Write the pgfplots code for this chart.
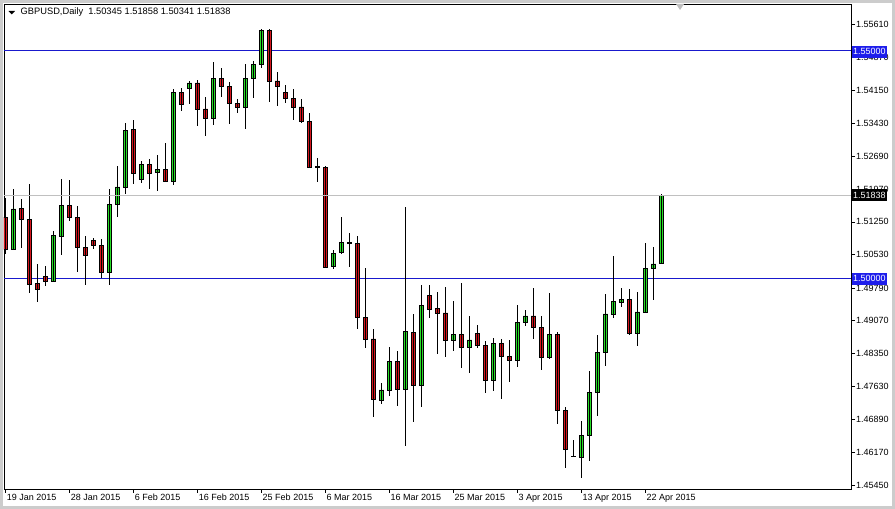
\documentclass[border=0pt]{standalone}
\usepackage{fontspec}
\setmainfont{Liberation Sans}
\usepackage{pgfplots}
\usepackage{pgfplotstable}
\pgfplotsset{compat=1.18}

\definecolor{bull}{RGB}{40,222,40}
\definecolor{bear}{RGB}{214,22,30}
\definecolor{level}{RGB}{25,25,205}
\definecolor{tag}{RGB}{30,30,235}
\definecolor{bidline}{RGB}{192,192,192}

% GBPUSD daily, bar index (0 = 19 Jan 2015), open high low close
\pgfplotstableread{
i o h l c
0 1.51356 1.51768 1.50541 1.50651
1 1.50651 1.51973 1.50651 1.51533
2 1.51540 1.51761 1.50673 1.51312
3 1.51312 1.52091 1.49681 1.49880
4 1.49902 1.50321 1.49476 1.49770
5 1.50056 1.50269 1.49828 1.49946
6 1.49946 1.51055 1.49917 1.50945
7 1.50938 1.52201 1.50519 1.51621
8 1.51621 1.52164 1.51261 1.51356
9 1.51342 1.51599 1.50137 1.50695
10 1.50695 1.50930 1.49858 1.50519
11 1.50842 1.50894 1.50651 1.50739
12 1.50739 1.50872 1.50012 1.50137
13 1.50137 1.51966 1.49858 1.51643
14 1.51643 1.52488 1.51356 1.52018
15 1.52018 1.53421 1.51863 1.53274
16 1.53296 1.53501 1.52084 1.52326
17 1.52194 1.52598 1.52106 1.52524
18 1.52524 1.52635 1.51966 1.52326
19 1.52348 1.52723 1.51922 1.52414
20 1.52414 1.52980 1.52135 1.52150
21 1.52150 1.54185 1.52062 1.54111
22 1.54111 1.54207 1.53685 1.53847
23 1.54199 1.54346 1.53847 1.54310
24 1.54310 1.54383 1.53355 1.53737
25 1.53737 1.54008 1.53134 1.53538
26 1.53538 1.54780 1.53384 1.54420
27 1.54420 1.54633 1.53994 1.54243
28 1.54243 1.54332 1.53406 1.53869
29 1.53869 1.53950 1.53648 1.53781
30 1.53781 1.54728 1.53296 1.54420
31 1.54420 1.54794 1.53972 1.54728
32 1.54728 1.55500 1.54640 1.55463
33 1.55463 1.55500 1.53898 1.54354
34 1.54354 1.54559 1.53795 1.54243
35 1.54111 1.54266 1.53876 1.53979
36 1.53979 1.54185 1.53494 1.53781
37 1.53781 1.53964 1.53428 1.53465
38 1.53472 1.53648 1.52429 1.52451
39 1.52458 1.52664 1.52120 1.52466
40 1.52458 1.52473 1.50232 1.50254
41 1.50269 1.50629 1.50210 1.50563
42 1.50570 1.51349 1.50541 1.50805
43 1.50783 1.50996 1.50247 1.50798
44 1.50783 1.50945 1.48881 1.49152
45 1.49152 1.50225 1.48462 1.48668
46 1.48668 1.48895 1.46941 1.47345
47 1.47323 1.47691 1.47235 1.47544
48 1.47544 1.48499 1.47419 1.48183
49 1.48183 1.48411 1.47184 1.47566
50 1.47566 1.51569 1.46302 1.48844
51 1.48822 1.49226 1.46831 1.47654
52 1.47654 1.49865 1.47162 1.49417
53 1.49637 1.49865 1.49130 1.49329
54 1.49336 1.49711 1.48330 1.49241
55 1.49241 1.49821 1.48264 1.48646
56 1.48646 1.49512 1.48396 1.48778
57 1.48778 1.49909 1.48021 1.48491
58 1.48491 1.49182 1.47911 1.48646
59 1.48800 1.48984 1.48469 1.48535
60 1.48535 1.48616 1.47477 1.47757
61 1.47757 1.48682 1.47514 1.48579
62 1.48579 1.48675 1.47338 1.48293
63 1.48293 1.48653 1.47713 1.48205
64 1.48205 1.49424 1.48043 1.49042
65 1.49042 1.49314 1.48947 1.49175
66 1.49175 1.49784 1.48660 1.48932
67 1.48932 1.49182 1.47977 1.48264
68 1.48264 1.49689 1.48227 1.48778
69 1.48778 1.48829 1.46794 1.47103
70 1.47103 1.47162 1.45825 1.46243
71 1.46085 1.46449 1.46060 1.46080
72 1.46067 1.46868 1.45597 1.46552
73 1.46552 1.47970 1.45979 1.47485
74 1.47485 1.48763 1.46963 1.48381
75 1.48381 1.49667 1.48065 1.49219
76 1.49219 1.50504 1.49123 1.49505
77 1.49483 1.49799 1.49380 1.49535
78 1.49535 1.49777 1.48756 1.48800
79 1.48800 1.49711 1.48506 1.49263
80 1.49263 1.50776 1.49233 1.50232
81 1.50232 1.50688 1.49527 1.50321
82 1.50345 1.51858 1.50341 1.51838
}\gbpusd

\begin{document}
\begin{tikzpicture}[x=1pt,y=1pt,font=\fontsize{9}{10}\selectfont]
\fill[white] (0,0) rectangle (895,509);
\draw[gray!40, line width=3pt] (1.5,1.5) rectangle (893.5,507.5);
\begin{axis}[
    at={(4pt,20pt)}, anchor=south west,
    scale only axis, width=847pt, height=485pt,
    xmin=-0.2, xmax=105.7, ymin=1.45362, ymax=1.56051,
    ybar stacked, bar width=4.6pt,
    axis line style={black, line width=0.8pt},
    tick align=outside, major tick length=4pt,
    tick style={black, line width=0.6pt},
    xtick pos=bottom, ytick pos=right, yticklabel pos=right,
    xtick={0,8,...,80},
    xticklabels={19 Jan 2015, 28 Jan 2015, 6 Feb 2015, 16 Feb 2015, 25 Feb 2015, 6 Mar 2015, 16 Mar 2015, 25 Mar 2015, 3 Apr 2015, 13 Apr 2015, 22 Apr 2015},
    xticklabel style={anchor=north west, inner sep=0pt, xshift=1pt, yshift=-1pt},
    ytick={1.45450,1.46170,1.46890,1.47630,1.48350,1.49070,1.49790,1.50530,1.51250,1.51970,1.52690,1.53430,1.54150,1.54870,1.55610},
    scaled y ticks=false,
    yticklabel style={anchor=west, inner sep=0pt, xshift=1pt,
        /pgf/number format/.cd, fixed, fixed zerofill, precision=5, assume math mode=true},
]
\draw[bidline, line width=0.8pt] (axis cs:-0.2,1.51838) -- (axis cs:105.7,1.51838);
% wicks: invisible base bar up to the body, error bars from low to high
\addplot[draw=none, fill=none,
    error bars/.cd, y dir=both, y explicit, error mark=none,
    error bar style={draw=black, line width=1pt}]
  table[x=i, y expr={min(\thisrow{o},\thisrow{c})},
        y error plus expr={\thisrow{h}-min(\thisrow{o},\thisrow{c})},
        y error minus expr={min(\thisrow{o},\thisrow{c})-\thisrow{l}}] {\gbpusd};
% bodies
\addplot[fill=bull, draw=black, line width=0.8pt]
  table[x=i, y expr={max(\thisrow{c}-\thisrow{o},0)}] {\gbpusd};
\addplot[fill=bear, draw=black, line width=0.8pt]
  table[x=i, y expr={max(\thisrow{o}-\thisrow{c},0)}] {\gbpusd};
\draw[level, line width=1.1pt] (axis cs:-0.2,1.5502) -- (axis cs:105.7,1.5502);
\draw[level, line width=1.1pt] (axis cs:-0.2,1.50) -- (axis cs:105.7,1.50);
\coordinate (t1) at (axis cs:105.7,1.55);
\coordinate (t2) at (axis cs:105.7,1.51838);
\coordinate (t3) at (axis cs:105.7,1.50);
\end{axis}
\node[fill=tag, text=white, anchor=west, inner xsep=1.5pt, inner ysep=0pt, minimum height=12pt] at ([xshift=0.5pt]t1) {1.55000};
\node[fill=black, text=white, anchor=west, inner xsep=1.5pt, inner ysep=0pt, minimum height=12pt] at ([xshift=0.5pt]t2) {1.51838};
\node[fill=tag, text=white, anchor=west, inner xsep=1.5pt, inner ysep=0pt, minimum height=12pt] at ([xshift=0.5pt]t3) {1.50000};
% header
\fill[black] (8.5,498) -- (15,498) -- (11.75,494.5) -- cycle;
\node[anchor=west, inner sep=0pt, font=\fontsize{9.3}{10}\selectfont] at (20.5,496.5) {GBPUSD,Daily\ \ 1.50345 1.51858 1.50341 1.51838};
\fill[gray!50] (676,505) -- (684,505) -- (680,499) -- cycle;
\end{tikzpicture}
\end{document}
